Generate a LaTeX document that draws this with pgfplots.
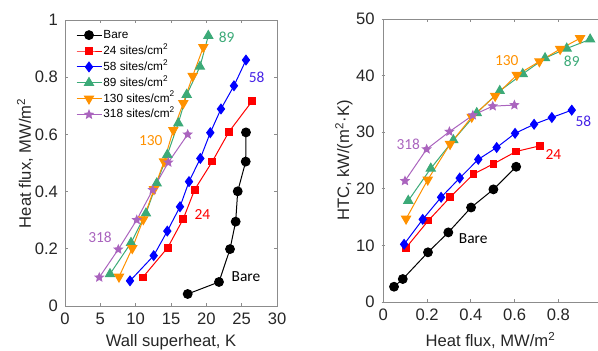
\documentclass[border=0pt]{standalone}
\usepackage{fontspec}
\setmainfont{Liberation Sans}
\newfontfamily\calib{Carlito}
\usepackage{pgfplots}
\pgfplotsset{compat=1.18}
\definecolor{cred}{RGB}{255,0,0}
\definecolor{cblue}{RGB}{0,0,255}
\definecolor{cblueT}{RGB}{70,35,230}
\definecolor{cgreen}{RGB}{60,170,120}
\definecolor{corange}{RGB}{255,145,0}
\definecolor{cpurple}{RGB}{170,100,190}
\pgfdeclareplotmark{fstar}{%
  \pgfpathmoveto{\pgfpointpolar{90}{\pgfplotmarksize}}%
  \pgfpathlineto{\pgfpointpolar{126}{0.45\pgfplotmarksize}}%
  \pgfpathlineto{\pgfpointpolar{162}{\pgfplotmarksize}}%
  \pgfpathlineto{\pgfpointpolar{198}{0.45\pgfplotmarksize}}%
  \pgfpathlineto{\pgfpointpolar{234}{\pgfplotmarksize}}%
  \pgfpathlineto{\pgfpointpolar{270}{0.45\pgfplotmarksize}}%
  \pgfpathlineto{\pgfpointpolar{306}{\pgfplotmarksize}}%
  \pgfpathlineto{\pgfpointpolar{342}{0.45\pgfplotmarksize}}%
  \pgfpathlineto{\pgfpointpolar{18}{\pgfplotmarksize}}%
  \pgfpathlineto{\pgfpointpolar{54}{0.45\pgfplotmarksize}}%
  \pgfpathclose\pgfusepathqfillstroke}
\newcommand{\lblfont}{\fontsize{8.3}{10}\selectfont}
\pgfplotsset{
  mystyle/.style={
    scale only axis, clip=false,
    axis line style={black!45},
    tick style={black!45, line width=0.4pt},
    major tick length=1.6pt, tick align=inside,
    ticklabel style={font=\lblfont, text=black!85},
    /pgf/number format/assume math mode=true,
    every axis plot/.append style={line width=0.5pt},
  },
  sBare/.style={color=black, mark=*, mark size=2.2pt, mark options={fill=black, solid}},
  s24/.style={color=cred, mark=square*, mark size=1.7pt, mark options={fill=cred, solid}},
  s58/.style={color=cblue, mark=diamond*, mark size=2.4pt, mark options={fill=cblue, solid}},
  s89/.style={color=cgreen, mark=triangle*, mark size=2.6pt, mark options={fill=cgreen, solid}},
  s130/.style={color=corange, mark=triangle*, mark size=2.6pt, mark options={fill=corange, solid, rotate=180}},
  s318/.style={color=cpurple, mark=fstar, mark size=2.1pt, mark options={fill=cpurple, solid}},
}
\newcommand{\ann}{\calib\fontsize{7.7}{9}\selectfont}
\begin{document}
\begin{tikzpicture}
% ---------------- left axis ----------------
\begin{axis}[mystyle,
  at={(32.5pt,22pt)}, anchor=south west,
  width=106pt, height=143pt,
  xmin=0, xmax=30, ymin=0, ymax=1,
  xtick={0,5,10,15,20,25,30},
  ytick={0,0.2,0.4,0.6,0.8,1},
  xlabel={Wall superheat, K},
  ylabel={Heat flux, MW/m\textsuperscript{2}},
  xlabel style={font=\lblfont, text=black!85, at={(axis description cs:0.5,0)}, anchor=base, yshift=-20.3pt},
  ylabel style={font=\lblfont, text=black!85, at={(axis description cs:0,0.5)}, anchor=center, yshift=20pt},
  legend cell align=left,
  legend image code/.code={\draw[mark repeat=2,mark phase=2] plot coordinates {(0pt,0pt) (6.25pt,0pt) (12.5pt,0pt)};},
  legend style={at={(axis description cs:0,1)}, anchor=north west, xshift=5.3pt, yshift=-4.5pt,
    draw=none, fill=none, inner sep=0pt, row sep=2.25pt,
    font=\fontsize{5.9}{6.5}\selectfont,
    nodes={inner xsep=0.7pt, inner ysep=0pt, text height=4.5pt, text depth=1.2pt}},
]
\addplot[sBare] coordinates {(17.36,0.042) (21.79,0.084) (23.35,0.199) (24.15,0.295) (24.44,0.401) (25.57,0.505) (25.61,0.607)};
\addlegendentry{Bare}
\addplot[s24] coordinates {(11.0,0.100) (14.53,0.204) (16.74,0.305) (18.35,0.407) (20.84,0.505) (23.2,0.609) (26.5,0.717)};
\addlegendentry{24 sites/cm\textsuperscript{2}}
\addplot[s58] coordinates {(9.2,0.088) (12.55,0.176) (14.48,0.262) (16.27,0.347) (17.55,0.435) (19.15,0.516) (20.56,0.606) (22.07,0.689) (23.91,0.770) (25.61,0.860)};
\addlegendentry{58 sites/cm\textsuperscript{2}}
\addplot[s89] coordinates {(6.37,0.112) (9.34,0.221) (11.46,0.324) (12.98,0.429) (14.48,0.529) (16.03,0.639) (17.22,0.739) (19.1,0.837) (20.28,0.945)};
\addlegendentry{89 sites/cm\textsuperscript{2}}
\addplot[s130] coordinates {(7.64,0.102) (9.52,0.202) (11.08,0.303) (12.59,0.408) (14.01,0.505) (15.32,0.615) (16.74,0.709) (18.07,0.804) (19.57,0.905)};
\addlegendentry{130 sites/cm\textsuperscript{2}}
\addplot[s318] coordinates {(4.85,0.100) (7.54,0.198) (10.15,0.301) (12.41,0.406) (14.62,0.502) (17.36,0.600)};
\addlegendentry{318 sites/cm\textsuperscript{2}}
\node[font=\ann, text=cgreen] at (axis cs:22.88,0.94) {89};
\node[font=\ann, text=cblueT] at (axis cs:27.13,0.80) {58};
\node[font=\ann, text=corange] at (axis cs:12.13,0.578) {130};
\node[font=\ann, text=cred] at (axis cs:19.43,0.321) {24};
\node[font=\ann, text=cpurple] at (axis cs:4.95,0.242) {318};
\node[font=\ann, text=black] at (axis cs:25.61,0.102) {Bare};
\end{axis}
% ---------------- right axis ----------------
\begin{axis}[mystyle,
  at={(191.65pt,24pt)}, anchor=south west,
  width=107.35pt, height=141.5pt,
  axis x line=box, axis y line=left, axis line style={-},
  xmin=0, xmax=0.981, ymin=0, ymax=50,
  xtick={0,0.2,0.4,0.6,0.8},
  ytick={0,10,20,30,40,50},
  xlabel={Heat flux, MW/m\textsuperscript{2}},
  ylabel={HTC, kW/(m\textsuperscript{2}·K)},
  xlabel style={font=\lblfont, text=black!85, at={(axis description cs:0.5,0)}, anchor=base, yshift=-22pt},
  ylabel style={font=\lblfont, text=black!85, at={(axis description cs:0,0.5)}, anchor=center, yshift=19.7pt},
]
\addplot[sBare] coordinates {(0.049,2.7) (0.089,4.06) (0.204,8.78) (0.297,12.3) (0.401,16.7) (0.503,19.9) (0.607,23.9)};
\addplot[s24] coordinates {(0.104,9.6) (0.206,14.4) (0.305,18.5) (0.412,22.6) (0.503,24.4) (0.607,26.6) (0.716,27.6)};
\addplot[s58] coordinates {(0.095,10.2) (0.18,14.6) (0.264,18.5) (0.349,21.9) (0.434,25.2) (0.518,27.3) (0.602,29.8) (0.689,31.4) (0.77,32.6) (0.861,33.9)};
\addplot[s89] coordinates {(0.114,17.9) (0.217,23.6) (0.32,28.6) (0.427,33.4) (0.532,37.3) (0.637,40.3) (0.739,43.1) (0.838,44.8) (0.945,46.4)};
\addplot[s130] coordinates {(0.104,14.7) (0.203,21.6) (0.305,27.9) (0.404,32.7) (0.511,36.4) (0.61,40.1) (0.713,42.5) (0.808,44.7) (0.899,46.6)};
\addplot[s318] coordinates {(0.099,21.4) (0.198,27.0) (0.302,30.1) (0.409,33.0) (0.5,34.6) (0.599,34.8)};
\node[font=\ann, text=corange] at (axis cs:0.564,42.6) {130};
\node[font=\ann, text=cgreen] at (axis cs:0.861,42.6) {89};
\node[font=\ann, text=cblueT] at (axis cs:0.914,32.0) {58};
\node[font=\ann, text=cred] at (axis cs:0.777,26.1) {24};
\node[font=\ann, text=cpurple] at (axis cs:0.114,27.9) {318};
\node[font=\ann, text=black] at (axis cs:0.411,11.25) {Bare};
\end{axis}
\pgfresetboundingbox
\path (0pt,0pt) rectangle (299pt,175pt);
\end{tikzpicture}
\end{document}
